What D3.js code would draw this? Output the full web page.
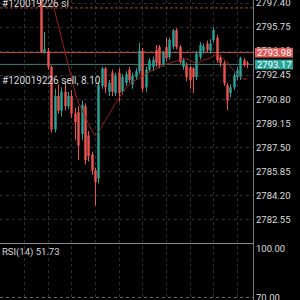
<!DOCTYPE html>
<html>
<head>
<meta charset="utf-8">
<script src="https://cdn.jsdelivr.net/npm/d3@7"></script>
<style>
  html, body { margin: 0; padding: 0; background: #000; }
  svg { display: block; }
</style>
</head>
<body>
<div id="chart"></div>
<script>
var opens  = [2798.6, 2794.0, 2794.1, 2793.0, 2788.7, 2791.0, 2790.0, 2791.3, 2790.3, 2791.0,
              2789.8, 2789.9, 2788.4, 2790.3, 2788.3, 2787.0, 2785.9, 2785.35, 2791.7, 2792.9,
              2791.3, 2792.6, 2791.2, 2792.6, 2791.3, 2791.9, 2792.8, 2791.8, 2792.3, 2792.7,
              2794.1, 2791.6, 2792.8, 2793.0, 2794.15, 2794.36, 2793.12, 2794.36, 2793.67, 2794.4,
              2795.52, 2794.36, 2793.0, 2793.1, 2792.98, 2792.9, 2792.3, 2793.67, 2794.1, 2794.6,
              2794.1, 2794.84, 2795.0, 2793.67, 2793.26, 2791.74, 2791.2, 2791.6, 2792.3, 2792.29,
              2793.46, 2793.26];
var highs  = [2798.7, 2795.4, 2794.3, 2793.1, 2791.5, 2791.8, 2791.6, 2792.0, 2791.3, 2791.4,
              2790.2, 2790.3, 2790.7, 2790.5, 2788.6, 2787.2, 2786.1, 2792.0, 2793.0, 2793.0,
              2792.1, 2792.8, 2792.6, 2792.9, 2792.5, 2792.7, 2793.0, 2792.6, 2792.9, 2794.65,
              2794.3, 2793.0, 2793.6, 2793.7, 2794.5, 2794.5, 2794.1, 2795.0, 2795.0, 2795.6,
              2795.65, 2794.5, 2793.6, 2793.3, 2793.1, 2793.0, 2794.1, 2794.7, 2794.6, 2794.8,
              2794.9, 2795.7, 2795.2, 2793.8, 2793.4, 2791.9, 2791.8, 2792.6, 2793.0, 2793.7,
              2793.6, 2793.4];
var lows   = [2793.95, 2793.9, 2792.8, 2788.5, 2788.5, 2789.8, 2789.6, 2790.0, 2790.1, 2789.5,
              2788.0, 2786.6, 2788.0, 2786.3, 2786.5, 2785.6, 2783.5, 2785.0, 2791.5, 2791.2,
              2791.0, 2791.0, 2791.0, 2790.6, 2791.1, 2791.7, 2791.9, 2791.5, 2792.1, 2792.5,
              2791.3, 2791.3, 2792.7, 2792.7, 2793.0, 2792.9, 2793.0, 2793.4, 2793.5, 2794.2,
              2794.2, 2793.2, 2792.8, 2792.0, 2791.5, 2791.2, 2792.1, 2793.5, 2793.9, 2794.0,
              2793.9, 2794.7, 2793.3, 2793.0, 2791.7, 2790.02, 2790.9, 2791.4, 2792.1, 2792.1,
              2793.0, 2792.9];
var closes = [2794.0, 2794.2, 2793.0, 2788.7, 2791.0, 2790.0, 2791.3, 2790.3, 2791.0, 2789.8,
              2789.2, 2787.6, 2790.4, 2786.6, 2786.9, 2785.9, 2785.1, 2791.75, 2792.9, 2791.6,
              2791.9, 2791.3, 2792.4, 2791.2, 2792.3, 2792.5, 2792.1, 2792.4, 2792.7, 2794.1,
              2791.5, 2792.8, 2793.45, 2793.5, 2793.26, 2793.12, 2793.95, 2793.6, 2794.84, 2795.5,
              2794.36, 2793.33, 2793.46, 2792.3, 2792.09, 2792.3, 2793.9, 2794.5, 2794.4, 2794.15,
              2794.6, 2795.52, 2793.46, 2793.26, 2791.88, 2790.71, 2791.6, 2792.43, 2792.77, 2793.6,
              2793.12, 2793.17];
var maVals = [2800.6, 2799.65, 2798.75, 2797.83, 2796.9, 2795.96, 2795.04, 2794.08, 2793.19, 2792.23,
              2791.33, 2790.57, 2790.09, 2789.61, 2789.13, 2788.65, 2788.3, 2788.51, 2788.92, 2789.34,
              2789.68, 2790.09, 2790.5, 2790.85, 2791.19, 2791.54, 2791.74, 2791.95, 2792.09, 2792.22,
              2792.36, 2792.5, 2792.64, 2792.77, 2792.88, 2792.98, 2793.08, 2793.19, 2793.26, 2793.33,
              2793.39, 2793.46, 2793.53, 2793.53, 2793.46, 2793.33, 2793.26, 2793.33, 2793.46, 2793.53,
              2793.6, 2793.74, 2793.87, 2793.74, 2793.53, 2793.33, 2793.05, 2792.77, 2792.5, 2792.29,
              2792.16, 2792.16];

var priceTicks = [2782.55, 2784.20, 2785.85, 2787.50, 2789.15, 2790.80, 2792.45, 2794.10, 2795.75, 2797.40];
var rsiTicks = [70, 100];
var timeGrid = [-5, 2, 9, 16, 23, 30, 37, 44, 51, 58];

var slPrice = 2797.04;
var askPrice = 2793.98;
var bidPrice = 2793.17;
var slLabel = "#120019226 sl";
var orderLabel = "#120019226 sell, 8.10";
var rsiLabel = "RSI(14) 51.73";

var W = 300, H = 300;
var plotRight = 253;
var paneBottom = 243;

var svg = d3.select("#chart")
    .append("svg")
    .attr("width", W)
    .attr("height", H)
    .style("background", "#000")
    .style("font-family", "Roboto, sans-serif");

var x = d3.scaleLinear().domain([0, closes.length - 1]).range([41, 247.2]);
var y = d3.scaleLinear().domain([2782.55, 2797.40]).range([219.3, 2.7]);
var yRsi = d3.scaleLinear().domain([70, 100]).range([297.5, 248.5]);

svg.append("clipPath").attr("id", "pane")
    .append("rect").attr("x", 0).attr("y", 0).attr("width", plotRight).attr("height", paneBottom);

// grid
var grid = svg.append("g");
grid.selectAll(".vg").data(timeGrid).enter().append("line")
    .attr("x1", function(d) { return Math.round(x(d)) + 0.5; })
    .attr("x2", function(d) { return Math.round(x(d)) + 0.5; })
    .attr("y1", 0).attr("y2", H)
    .attr("stroke", "#2e2e2e").attr("stroke-dasharray", "3,3");
grid.selectAll(".hg").data(priceTicks).enter().append("line")
    .attr("x1", 0).attr("x2", plotRight)
    .attr("y1", function(d) { return Math.round(y(d)) + 0.5; })
    .attr("y2", function(d) { return Math.round(y(d)) + 0.5; })
    .attr("stroke", "#2e2e2e").attr("stroke-dasharray", "3,3");
grid.append("line")
    .attr("x1", 0).attr("x2", plotRight)
    .attr("y1", Math.round(yRsi(70)) - 0.5).attr("y2", Math.round(yRsi(70)) - 0.5)
    .attr("stroke", "#666").attr("stroke-dasharray", "3,3");

var pane = svg.append("g").attr("clip-path", "url(#pane)");

// order lines
pane.append("line")
    .attr("x1", 0).attr("x2", plotRight)
    .attr("y1", y(slPrice)).attr("y2", y(slPrice))
    .attr("stroke", "#a8403c").attr("stroke-dasharray", "3,2");
pane.append("line")
    .attr("x1", 0).attr("x2", plotRight)
    .attr("y1", y(askPrice)).attr("y2", y(askPrice))
    .attr("stroke", "#b85450");
pane.append("line")
    .attr("x1", 0).attr("x2", plotRight)
    .attr("y1", y(bidPrice)).attr("y2", y(bidPrice))
    .attr("stroke", "#3b8079");

// candles
var candles = d3.range(closes.length).map(function(i) {
    return {i: i, o: opens[i], h: highs[i], l: lows[i], c: closes[i]};
});
var up = "#26a69a", down = "#ef5350";

pane.selectAll(".wick").data(candles).enter().append("line")
    .attr("x1", function(d) { return Math.round(x(d.i)) + 0.5; })
    .attr("x2", function(d) { return Math.round(x(d.i)) + 0.5; })
    .attr("y1", function(d) { return y(d.h); })
    .attr("y2", function(d) { return y(d.l); })
    .attr("stroke", function(d) { return d.c >= d.o ? up : down; });

pane.selectAll(".body").data(candles).enter().append("rect")
    .attr("x", function(d) { return Math.round(x(d.i)) - 0.7; })
    .attr("width", 2.4)
    .attr("y", function(d) { return y(Math.max(d.o, d.c)); })
    .attr("height", function(d) { return Math.max(1, Math.abs(y(d.o) - y(d.c))); })
    .attr("fill", function(d) { return d.c >= d.o ? up : down; });

// moving average
pane.append("path")
    .datum(maVals)
    .attr("fill", "none")
    .attr("stroke", "#9b2222")
    .attr("stroke-width", 1)
    .attr("d", d3.line()
        .x(function(d, i) { return x(i); })
        .y(function(d) { return y(d); }));

// order texts
svg.append("text").attr("x", 2).attr("y", 6.5)
    .attr("fill", "#d8d8d8").style("font-size", "10px").text(slLabel);
svg.append("text").attr("x", 2).attr("y", 84)
    .attr("fill", "#d8d8d8").style("font-size", "10px").text(orderLabel);

// pane separator and axis line
svg.append("line").attr("x1", 0).attr("x2", plotRight)
    .attr("y1", paneBottom + 0.5).attr("y2", paneBottom + 0.5).attr("stroke", "#8a8a8a");
svg.append("line").attr("x1", plotRight + 0.5).attr("x2", plotRight + 0.5)
    .attr("y1", 0).attr("y2", H).attr("stroke", "#7a7a7a");

// price axis labels
var yAxis = svg.append("g")
    .attr("transform", "translate(" + plotRight + ",0)")
    .call(d3.axisRight(y).tickValues(priceTicks).tickSize(0).tickPadding(3)
        .tickFormat(d3.format(".2f")));
yAxis.select(".domain").remove();
yAxis.selectAll("text").attr("fill", "#dcdcdc").style("font-size", "9.5px")
    .style("font-family", "Roboto, sans-serif");

var rAxis = svg.append("g")
    .attr("transform", "translate(" + plotRight + ",0)")
    .call(d3.axisRight(yRsi).tickValues(rsiTicks).tickSize(0).tickPadding(3)
        .tickFormat(d3.format(".2f")));
rAxis.select(".domain").remove();
rAxis.selectAll("text").attr("fill", "#dcdcdc").style("font-size", "9.5px")
    .style("font-family", "Roboto, sans-serif");

// price tags
var tags = [{v: askPrice, fill: "#e05a57"}, {v: bidPrice, fill: "#26a69a"}];
var tag = svg.selectAll(".tag").data(tags).enter().append("g");
tag.append("rect")
    .attr("x", plotRight + 2)
    .attr("y", function(d) { return y(d.v) - 4.8; })
    .attr("width", 38).attr("height", 9.8)
    .attr("fill", function(d) { return d.fill; });
tag.append("text")
    .attr("x", plotRight + 4)
    .attr("y", function(d) { return y(d.v); })
    .attr("dy", "0.35em")
    .attr("fill", "#fff").style("font-size", "9.5px")
    .text(function(d) { return d.v.toFixed(2); });

svg.append("text").attr("x", 2).attr("y", 255)
    .attr("fill", "#d8d8d8").style("font-size", "9.5px").text(rsiLabel);
</script>
</body>
</html>
